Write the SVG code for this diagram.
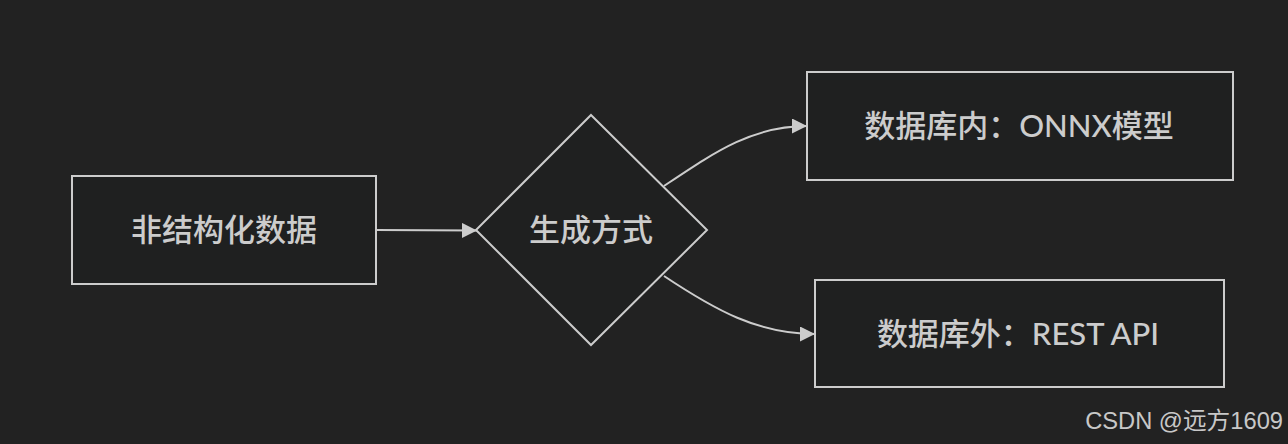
<svg xmlns="http://www.w3.org/2000/svg" width="1288" height="444" viewBox="0 0 1288 444">
  <style>
    .node { fill: #1f2020; stroke: #cccccc; stroke-width: 2; }
    .label { fill: #cccccc; font-family: "Lato", "Noto Sans CJK SC", sans-serif; font-size: 31px; font-weight: 500; text-anchor: middle; dominant-baseline: central; }
    .edge { fill: none; stroke: #cccccc; stroke-width: 2; marker-end: url(#arrow); }
    .wm { fill: #c8c8c8; font-family: "Liberation Sans", "Noto Sans CJK SC", sans-serif; font-size: 23.7px; text-anchor: end; }
  </style>
  <defs>
    <marker id="arrow" viewBox="0 0 10 10" refX="10" refY="5" markerUnits="userSpaceOnUse" markerWidth="15" markerHeight="15" orient="auto">
      <path d="M0,0 L10,5 L0,10 z" fill="#cccccc"/>
    </marker>
  </defs>
  <rect width="1288" height="444" fill="#222222"/>
  <g id="connectors">
    <path class="edge" d="M376,230 L477,230.5"/>
    <path class="edge" d="M664,186 C715,152 752,126 807,126"/>
    <path class="edge" d="M664,276 C715,310 758,334 815,334"/>
  </g>
  <g id="node-unstructured">
    <rect class="node" x="72" y="176" width="304" height="108"/>
    <text class="label" x="224" y="229">非结构化数据</text>
  </g>
  <g id="node-decision">
    <polygon class="node" points="591,115 707,230 591,345 476,230"/>
    <text class="label" x="591" y="229">生成方式</text>
  </g>
  <g id="node-onnx">
    <rect class="node" x="807" y="72" width="426" height="108"/>
    <text class="label" x="1019" y="125">数据库内：ONNX模型</text>
  </g>
  <g id="node-rest">
    <rect class="node" x="815" y="280" width="409" height="107"/>
    <text class="label" x="1018" y="333">数据库外：REST API</text>
  </g>
  <text class="wm" x="1283" y="429">CSDN @远方1609</text>
</svg>
